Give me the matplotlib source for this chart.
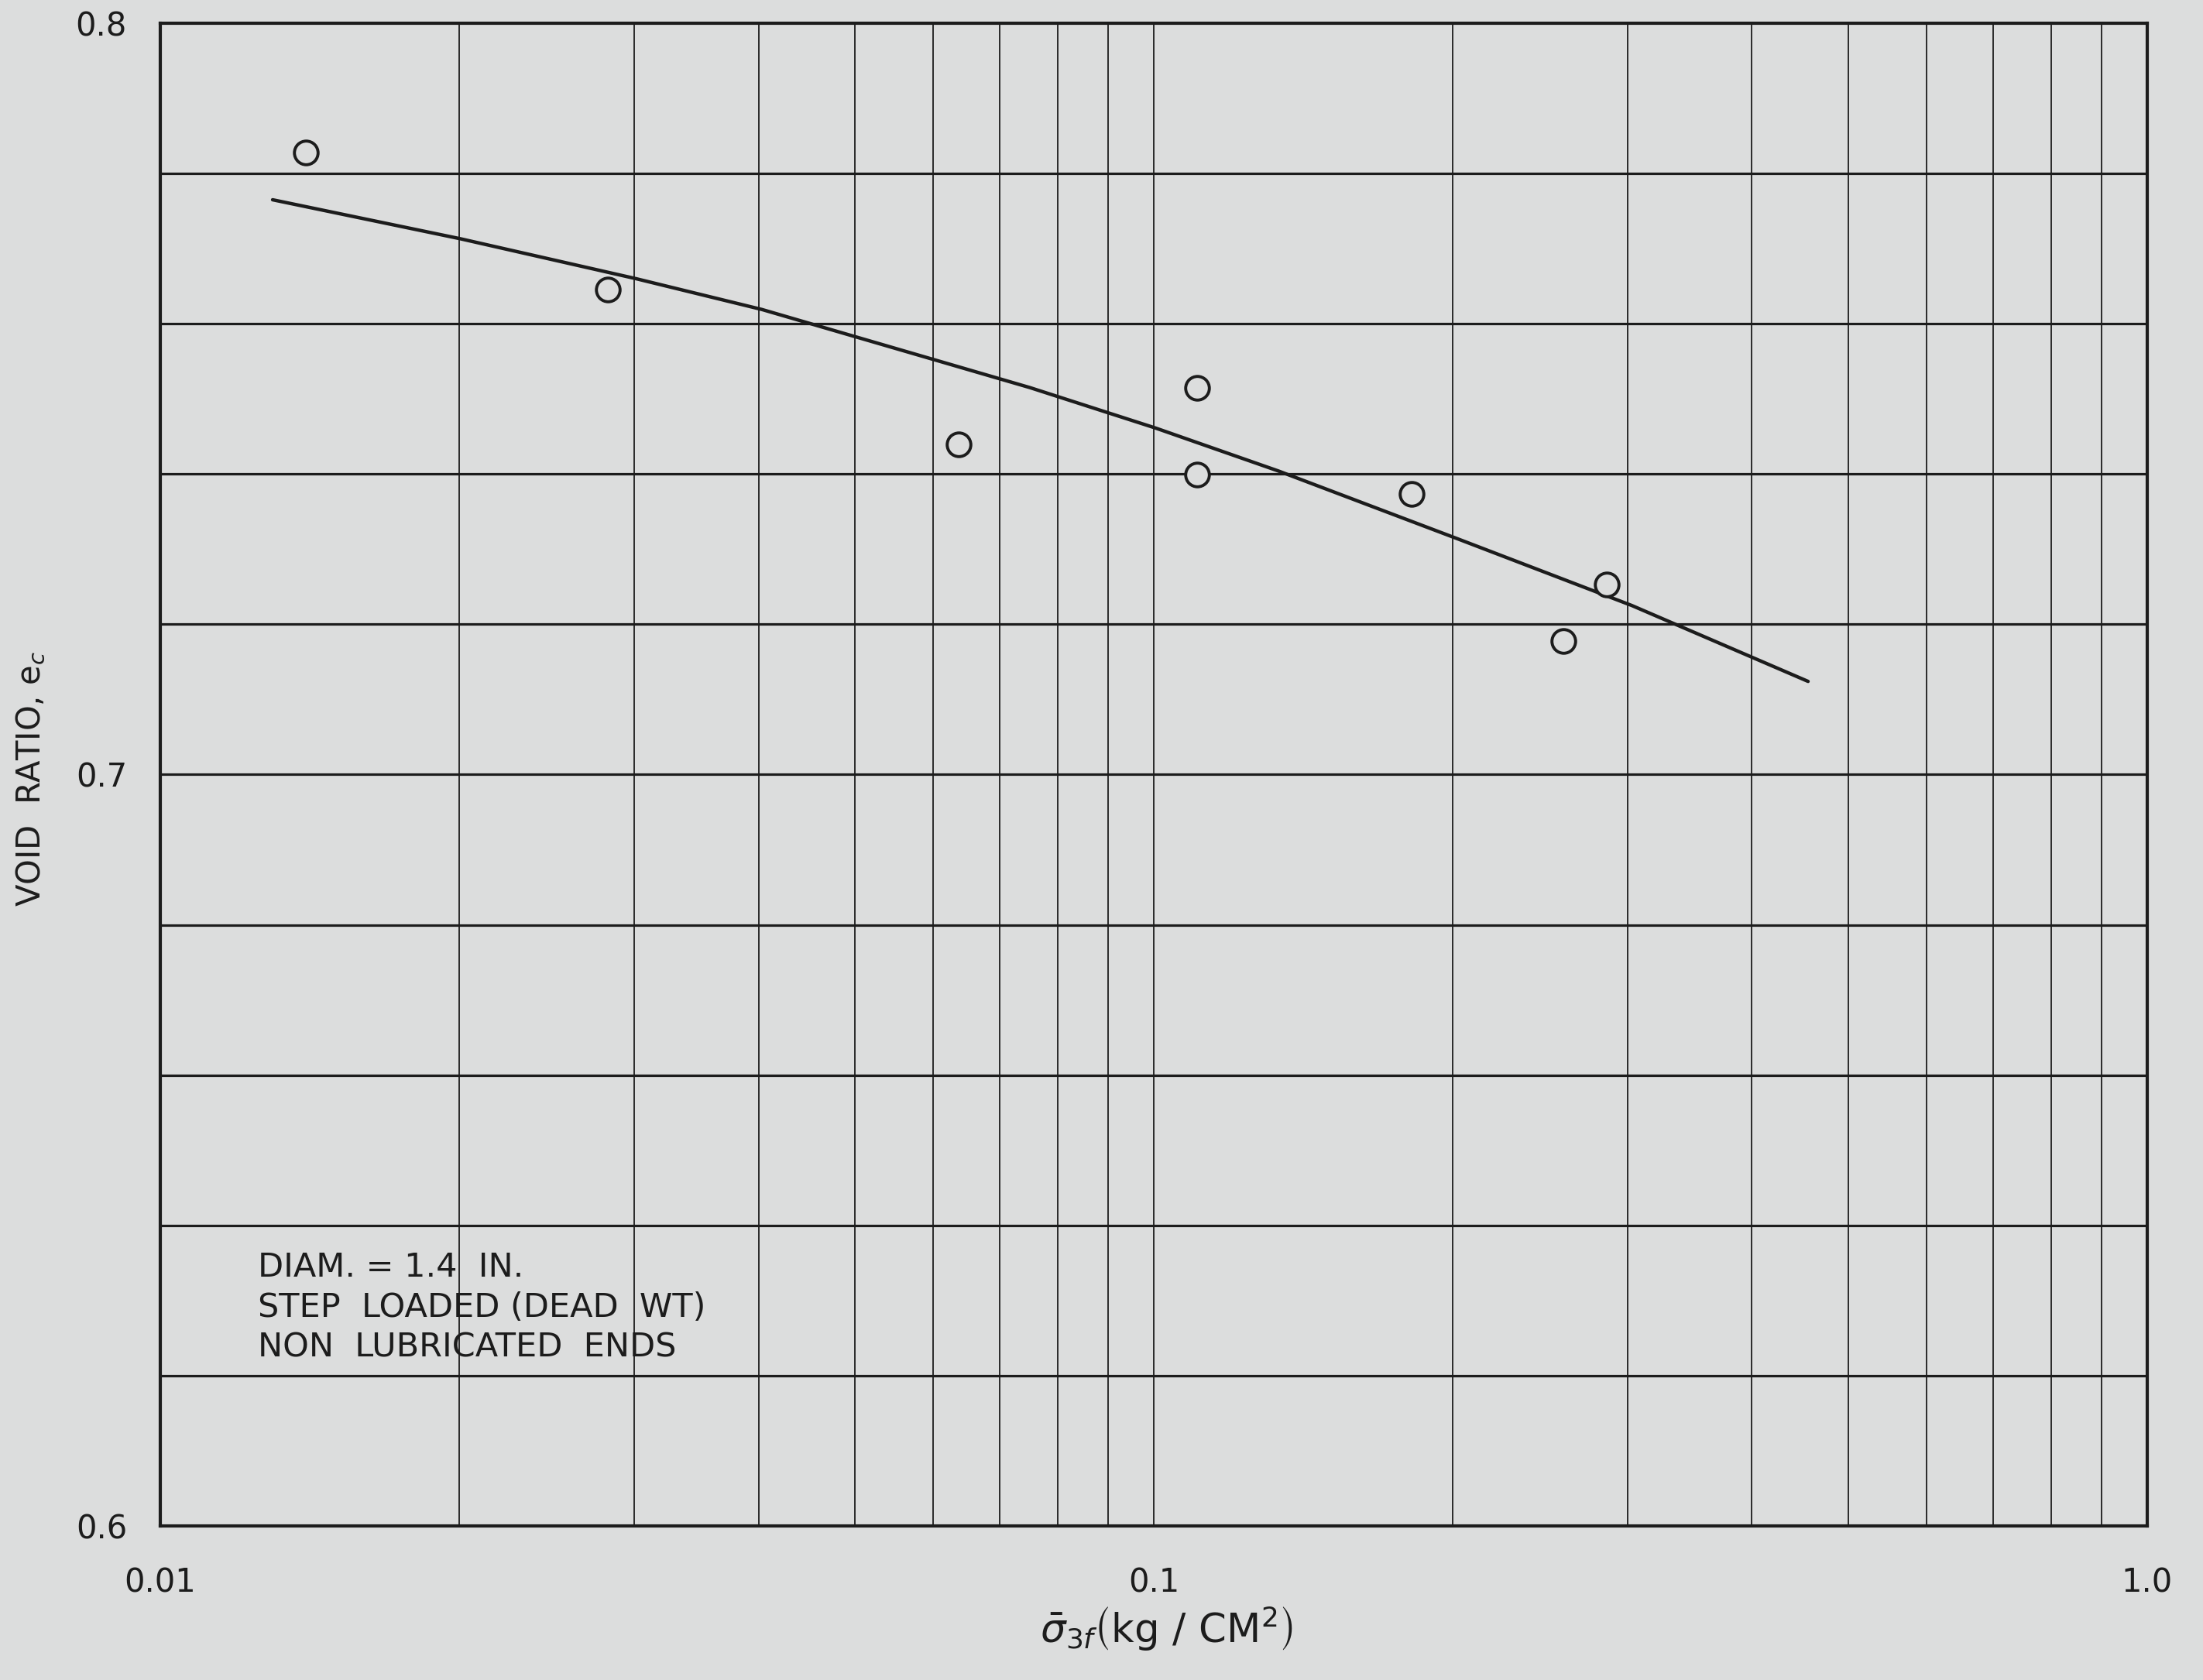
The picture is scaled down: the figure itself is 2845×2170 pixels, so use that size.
import matplotlib
matplotlib.use('Agg')
import matplotlib.pyplot as plt
from matplotlib.ticker import FixedLocator, NullFormatter, NullLocator

plt.rcParams['font.family'] = ['DejaVu Sans']
plt.rcParams['mathtext.fontset'] = 'dejavusans'

# Test results: effective minor principal stress at failure vs void ratio
sigma_3f = [0.0140, 0.0282, 0.0636, 0.1105, 0.1105, 0.1816, 0.2858, 0.2584]
void_ratio = [0.7828, 0.7645, 0.7439, 0.7515, 0.7399, 0.7373, 0.7253, 0.7178]

# Hand-drawn trend line through the data
curve_x = [0.01297, 0.02006, 0.03011, 0.04031, 0.07504, 0.1005, 0.1335,
           0.2020, 0.3028, 0.4556]
curve_y = [0.7765, 0.7713, 0.7660, 0.7619, 0.7515, 0.7461, 0.7404,
           0.7314, 0.7225, 0.7124]

x_ticks = [0.01, 0.1, 1.0]
x_tick_labels = ['0.01', '0.1', '1.0']
y_ticks = [0.6, 0.7, 0.8]
y_tick_labels = ['0.6', '0.7', '0.8']

note_lines = ['DIAM. = 1.4  IN.', 'STEP  LOADED (DEAD  WT)', 'NON  LUBRICATED  ENDS']

bg = '#dcdddd'
ink = '#1c1c1c'

fig = plt.figure(figsize=(28.45, 21.7), dpi=100, facecolor=bg)
ax = fig.add_axes([0.0728, 0.0917, 0.9019, 0.8945])
ax.set_facecolor(bg)

ax.set_xscale('log')
ax.set_xlim(0.01, 1.0)
ax.set_ylim(0.6, 0.8)

# grid: log cycles vertically, every 0.02 horizontally
minor_x = [m * d for d in (0.01, 0.1) for m in range(2, 10)]
for xv in minor_x + [0.1]:
    ax.axvline(xv, color=ink, lw=1.3, zorder=1)
for k in range(1, 10):
    ax.axhline(0.6 + 0.02 * k, color=ink, lw=2.3, zorder=1)

ax.plot(curve_x, curve_y, color=ink, lw=3.2, zorder=2,
        solid_joinstyle='round', solid_capstyle='round')
ax.plot(sigma_3f, void_ratio, linestyle='none', marker='o', markersize=22,
        markerfacecolor=bg, markeredgecolor=ink, markeredgewidth=2.8, zorder=3)

ax.xaxis.set_major_locator(FixedLocator(x_ticks))
ax.xaxis.set_minor_locator(NullLocator())
ax.xaxis.set_minor_formatter(NullFormatter())
ax.set_xticklabels(x_tick_labels)
ax.set_yticks(y_ticks)
ax.set_yticklabels(y_tick_labels)
ax.tick_params(axis='both', length=0, labelsize=30, colors=ink)
ax.tick_params(axis='x', pad=38)
ax.tick_params(axis='y', pad=31)

for sp in ax.spines.values():
    sp.set_linewidth(3.0)
    sp.set_color(ink)
    sp.set_zorder(4)

ax.set_xlabel(r'$\bar{\sigma}_{3f}\left(\mathrm{kg\ /\ CM}^{2}\right)$', fontsize=37, color=ink)
ax.xaxis.set_label_coords(0.5066, -0.052)
ax.set_ylabel(r'VOID  RATIO, e$_{c}$', fontsize=30, color=ink)
ax.yaxis.set_label_coords(-0.057, 0.497)

ax.text(0.01254, 0.6366, '\n'.join(note_lines), fontsize=31, color=ink,
        linespacing=1.30, va='top', ha='left', zorder=3)

fig.savefig('out.png', dpi=100, facecolor=bg)
